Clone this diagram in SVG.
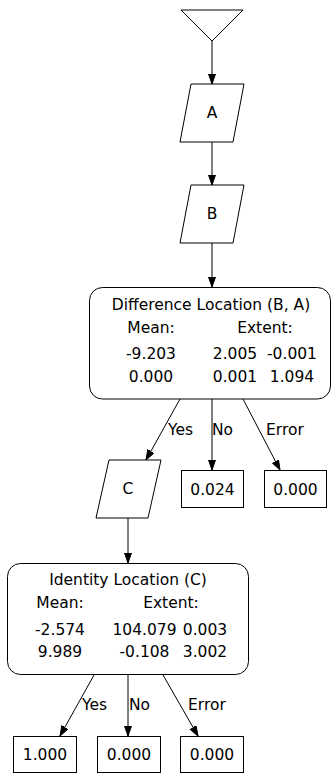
<svg xmlns="http://www.w3.org/2000/svg" width="331" height="773" viewBox="0 0 331 773">
<style>
.s{fill:#fff;stroke:#000;stroke-width:1}
.e{fill:none;stroke:#000;stroke-width:1}
text{font-family:"DejaVu Sans",sans-serif;font-size:15.5px;fill:#000}
.m{text-anchor:middle}
.st{text-anchor:start}
</style>
<defs>
<marker id="ah" markerUnits="userSpaceOnUse" markerWidth="11" markerHeight="8" refX="10" refY="3.5" orient="auto" viewBox="0 0 11 8">
<path d="M0,0 L10,3.5 L0,7 z" fill="#000" stroke="#000"/>
</marker>
</defs>
<rect width="331" height="773" fill="#fff"/>
<g id="edges">
<line class="e" x1="212" y1="41" x2="212" y2="84" marker-end="url(#ah)"/>
<line class="e" x1="212" y1="142" x2="212" y2="185" marker-end="url(#ah)"/>
<line class="e" x1="212" y1="243" x2="212" y2="287" marker-end="url(#ah)"/>
<line class="e" x1="180" y1="399" x2="146" y2="460" marker-end="url(#ah)"/>
<line class="e" x1="212" y1="399" x2="212" y2="470" marker-end="url(#ah)"/>
<line class="e" x1="243" y1="399" x2="280" y2="470" marker-end="url(#ah)"/>
<line class="e" x1="128" y1="518" x2="128" y2="563" marker-end="url(#ah)"/>
<line class="e" x1="94" y1="675" x2="60" y2="736" marker-end="url(#ah)"/>
<line class="e" x1="128" y1="675" x2="128" y2="736" marker-end="url(#ah)"/>
<line class="e" x1="163" y1="675" x2="198" y2="736" marker-end="url(#ah)"/>
<text class="st" x="168" y="435">Yes</text>
<text class="st" x="212" y="435">No</text>
<text class="st" x="266" y="435">Error</text>
<text class="st" x="82" y="710">Yes</text>
<text class="st" x="129" y="710">No</text>
<text class="st" x="188" y="710">Error</text>
</g>
<g id="start">
<polygon class="s" points="181,10 243,10 212,41"/>
</g>
<g id="A">
<polygon class="s" points="191,84 244,84 233,142 180,142"/>
<text class="m" x="212" y="118">A</text>
</g>
<g id="B">
<polygon class="s" points="191,185 244,185 233,243 180,243"/>
<text class="m" x="212" y="219">B</text>
</g>
<g id="diff">
<rect class="s" x="89.5" y="287.5" width="241" height="111.5" rx="13"/>
<text class="m" x="211" y="310">Difference Location (B, A)</text>
<text class="m" x="151" y="333">Mean:</text>
<text class="m" x="265" y="333">Extent:</text>
<text class="m" x="151" y="359">-9.203</text>
<text class="m" x="151" y="382">0.000</text>
<text class="m" x="235" y="359">2.005</text>
<text class="m" x="292" y="359">-0.001</text>
<text class="m" x="235" y="382">0.001</text>
<text class="m" x="292" y="382">1.094</text>
</g>
<g id="C">
<polygon class="s" points="109,460 161,460 148,518 96,518"/>
<text class="m" x="128" y="494">C</text>
</g>
<g id="no1">
<rect class="s" x="181.5" y="470.5" width="62" height="37"/>
<text class="m" x="212.5" y="495">0.024</text>
</g>
<g id="err1">
<rect class="s" x="264.5" y="470.5" width="62" height="37"/>
<text class="m" x="295.5" y="495">0.000</text>
</g>
<g id="ident">
<rect class="s" x="7.5" y="563.5" width="241" height="111" rx="13"/>
<text class="m" x="128" y="585">Identity Location (C)</text>
<text class="m" x="60" y="608">Mean:</text>
<text class="m" x="171" y="608">Extent:</text>
<text class="m" x="60" y="635">-2.574</text>
<text class="m" x="60" y="657">9.989</text>
<text class="m" x="144.5" y="635">104.079</text>
<text class="m" x="205" y="635">0.003</text>
<text class="m" x="144.5" y="657">-0.108</text>
<text class="m" x="205" y="657">3.002</text>
</g>
<g id="yes2">
<rect class="s" x="13.5" y="736.5" width="63" height="36"/>
<text class="m" x="45" y="760">1.000</text>
</g>
<g id="no2">
<rect class="s" x="97.5" y="736.5" width="63" height="36"/>
<text class="m" x="129" y="760">0.000</text>
</g>
<g id="err2">
<rect class="s" x="180.5" y="736.5" width="63" height="36"/>
<text class="m" x="212" y="760">0.000</text>
</g>
</svg>
